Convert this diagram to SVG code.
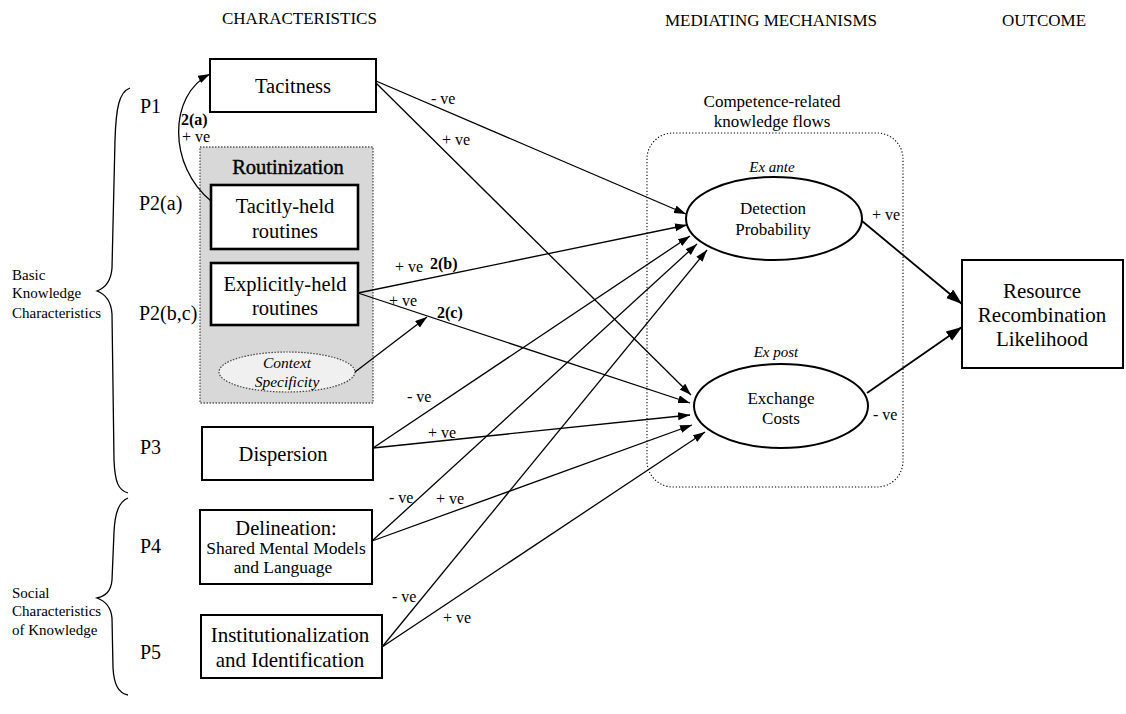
<svg xmlns="http://www.w3.org/2000/svg" width="1126" height="714" viewBox="0 0 1126 714">
<style>
text{font-family:"Liberation Serif","Times New Roman",serif;fill:#000}
.hdr{font-size:17px}
.box{fill:#fff;stroke:#000;stroke-width:2}
.thick{stroke-width:2.6}
.lbl{font-size:16px}
.bl{font-size:16px;font-weight:bold}
.side{font-size:15px}
.p{font-size:20px}
.t20{font-size:20.5px;text-anchor:middle}
.t17{font-size:17px;text-anchor:middle}
.it{font-style:italic}
.con line,.con path{stroke:#000;stroke-width:1.3;fill:none}
.con .hv{stroke-width:1.8}
</style>
<defs>
<marker id="ah" markerUnits="userSpaceOnUse" markerWidth="13" markerHeight="9" refX="12" refY="4" orient="auto">
<path d="M0,0 L12,4 L0,8 z" fill="#000"/>
</marker>
<marker id="ahb" markerUnits="userSpaceOnUse" markerWidth="17" markerHeight="12" refX="16" refY="5.5" orient="auto">
<path d="M0,0 L16,5.5 L0,11 z" fill="#000"/>
</marker>
</defs>
<rect width="1126" height="714" fill="#fff"/>

<!-- headers -->
<g id="headers">
<text class="hdr" x="222" y="24">CHARACTERISTICS</text>
<text class="hdr" x="665" y="26">MEDIATING MECHANISMS</text>
<text class="hdr" x="1002" y="26">OUTCOME</text>
</g>

<!-- braces -->
<g id="braces" fill="none" stroke="#000" stroke-width="1.3">
<path d="M130,88 C119,92 116,108 115,140 L112,268 C111,282 105,288 97,291 C105,294 111,300 112,314 L114,460 C115,482 118,490 128,493"/>
<path d="M128,498 C119,502 115,512 114,532 L112,580 C111,592 105,596 97,598 C105,601 111,606 112,618 L113,668 C114,684 118,693 128,695"/>
</g>
<g id="side-labels">
<text class="side" x="12" y="280">Basic</text>
<text class="side" x="12" y="298">Knowledge</text>
<text class="side" x="12" y="318">Characteristics</text>
<text class="side" x="12" y="598">Social</text>
<text class="side" x="12" y="616">Characteristics</text>
<text class="side" x="12" y="635">of Knowledge</text>
<text class="p" x="140" y="113">P1</text>
<text class="p" x="139" y="210">P2(a)</text>
<text class="p" x="139" y="320">P2(b,c)</text>
<text class="p" x="140" y="454">P3</text>
<text class="p" x="140" y="553">P4</text>
<text class="p" x="140" y="659">P5</text>
</g>

<!-- routinization group -->
<g id="routinization">
<rect x="200" y="147" width="173" height="256" fill="#d8d8d8" stroke="#555" stroke-width="1.3" stroke-dasharray="1.5,1.5"/>
<text class="t20" x="288" y="174" stroke="#000" stroke-width="0.4">Routinization</text>
</g>
<g id="tacitness">
<rect class="box" x="210" y="59" width="166" height="53" stroke-width="1.6"/>
<text class="t20" x="293" y="93">Tacitness</text>
</g>
<g id="tacitly-held">
<rect class="box thick" x="211" y="185" width="147" height="64"/>
<text class="t20" x="285" y="213">Tacitly-held</text>
<text class="t20" x="285" y="238">routines</text>
</g>
<g id="explicitly-held">
<rect class="box thick" x="211" y="263" width="147" height="62"/>
<text class="t20" x="285" y="291">Explicitly-held</text>
<text class="t20" x="285" y="315">routines</text>
</g>
<g id="context">
<ellipse cx="287" cy="372" rx="68" ry="20" fill="#f0f0f0" stroke="#444" stroke-width="1.2" stroke-dasharray="1.5,1.5"/>
<text class="it" x="287" y="368" font-size="15.5" text-anchor="middle">Context</text>
<text class="it" x="287" y="387" font-size="15.5" text-anchor="middle">Specificity</text>
</g>
<g id="dispersion">
<rect class="box" x="202" y="427" width="171" height="53"/>
<text class="t20" x="283" y="461" font-size="21">Dispersion</text>
</g>
<g id="delineation">
<rect class="box" x="200" y="510" width="172" height="74"/>
<text class="t20" x="286" y="535" font-size="21">Delineation:</text>
<text x="286" y="554" font-size="17.5" text-anchor="middle">Shared Mental Models</text>
<text x="283" y="573" font-size="17.5" text-anchor="middle">and Language</text>
</g>
<g id="institutionalization">
<rect class="box" x="201" y="615" width="181" height="63"/>
<text x="290" y="642" font-size="21" text-anchor="middle">Institutionalization</text>
<text x="290" y="667" font-size="21" text-anchor="middle">and Identification</text>
</g>

<!-- mediating -->
<g id="competence-flows">
<rect x="647" y="133" width="256" height="354" rx="26" ry="26" fill="none" stroke="#000" stroke-width="1.1" stroke-dasharray="1.2,2"/>
<text class="t17" x="772" y="107" font-size="16.5">Competence-related</text>
<text class="t17" x="772" y="127" font-size="16.5">knowledge flows</text>
</g>
<g id="detection">
<text class="it" x="772" y="172" font-size="15" text-anchor="middle">Ex ante</text>
<ellipse cx="774" cy="218.5" rx="88" ry="41.5" fill="#fff" stroke="#000" stroke-width="2"/>
<text class="t17" x="773" y="214">Detection</text>
<text class="t17" x="773" y="235">Probability</text>
</g>
<g id="exchange">
<text class="it" x="776" y="357" font-size="15" text-anchor="middle">Ex post</text>
<ellipse cx="781" cy="406" rx="87" ry="42" fill="#fff" stroke="#000" stroke-width="2"/>
<text class="t17" x="781" y="404">Exchange</text>
<text class="t17" x="781" y="424">Costs</text>
</g>
<g id="resource">
<rect class="box" x="962" y="260" width="161" height="108"/>
<text x="1042" y="298" font-size="21" text-anchor="middle">Resource</text>
<text x="1042" y="322" font-size="21" text-anchor="middle">Recombination</text>
<text x="1042" y="346" font-size="21" text-anchor="middle">Likelihood</text>
</g>

<!-- connectors -->
<g id="connectors" class="con">
<path d="M211,201 C168,166 168,95 210,74" marker-end="url(#ah)"/>
<line x1="376" y1="81" x2="686" y2="214" marker-end="url(#ah)"/>
<line x1="376" y1="83" x2="691" y2="395" marker-end="url(#ah)"/>
<line x1="358" y1="293" x2="687" y2="225" marker-end="url(#ah)"/>
<line x1="358" y1="293" x2="690" y2="403" marker-end="url(#ah)"/>
<line x1="355" y1="372" x2="427" y2="317" marker-end="url(#ah)"/>
<line x1="373" y1="448" x2="690" y2="236" marker-end="url(#ah)"/>
<line x1="373" y1="448" x2="690" y2="415" marker-end="url(#ah)"/>
<line x1="372" y1="541" x2="697" y2="244" marker-end="url(#ah)"/>
<line x1="372" y1="541" x2="692" y2="425" marker-end="url(#ah)"/>
<line x1="382" y1="647" x2="707" y2="250" marker-end="url(#ah)"/>
<line x1="382" y1="647" x2="705" y2="432" marker-end="url(#ah)"/>
<line class="hv" x1="862" y1="221" x2="962" y2="304" marker-end="url(#ahb)"/>
<line class="hv" x1="867" y1="393" x2="962" y2="327" marker-end="url(#ahb)"/>
</g>

<!-- connector labels -->
<g id="connector-labels">
<text class="bl" x="181" y="125" font-size="14">2(a)</text>
<text class="lbl" x="182" y="142" font-size="15">+ ve</text>
<text class="lbl" x="431" y="104">- ve</text>
<text class="lbl" x="442" y="145">+ ve</text>
<text class="lbl" x="395" y="272">+ ve</text>
<text class="bl" x="430" y="269">2(b)</text>
<text class="lbl" x="389" y="306">+ ve</text>
<text class="bl" x="437" y="318">2(c)</text>
<text class="lbl" x="407" y="402">- ve</text>
<text class="lbl" x="428" y="438">+ ve</text>
<text class="lbl" x="389" y="503">- ve</text>
<text class="lbl" x="436" y="504">+ ve</text>
<text class="lbl" x="392" y="602">- ve</text>
<text class="lbl" x="443" y="623">+ ve</text>
<text class="lbl" x="872" y="220">+ ve</text>
<text class="lbl" x="873" y="420">- ve</text>
</g>
</svg>
